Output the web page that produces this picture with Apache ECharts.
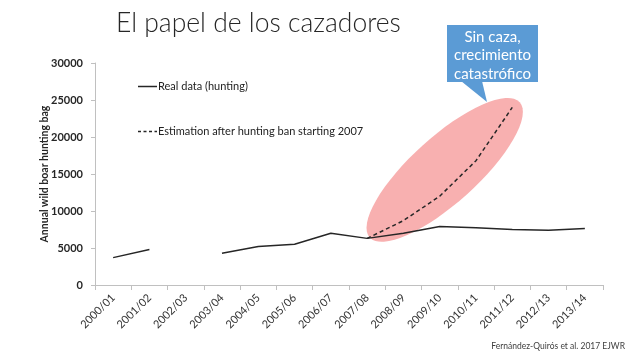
<!DOCTYPE html>
<html>
<head>
<meta charset="utf-8">
<script src="https://cdn.jsdelivr.net/npm/echarts@6/dist/echarts.min.js"></script>
<style>
html,body{margin:0;padding:0;background:#fff;}
#c{width:636px;height:356px;}
</style>
</head>
<body>
<div id="c"></div>
<script>
var categories = ['2000/01','2001/02','2002/03','2003/04','2004/05','2005/06','2006/07','2007/08','2008/09','2009/10','2010/11','2011/12','2012/13','2013/14'];
var realData = [3700, 4800, null, 4300, 5200, 5500, 7000, 6300, 7000, 7900, 7750, 7500, 7400, 7650];
var estimation = [null, null, null, null, null, null, null, 6300, 8700, 12000, 16800, 24000, null, null];
var yTicks = {min: 0, max: 30000, interval: 5000};
var seriesNames = ['Real data (hunting)', 'Estimation after hunting ban starting 2007'];
var titleText = 'El papel de los cazadores';
var yAxisName = 'Annual wild boar hunting bag';
var calloutLines = ['Sin caza,', 'crecimiento', 'catastrófico'];
var sourceText = 'Fernández-Quirós et al. 2017 EJWR';

var FONT = 'Lato, "Open Sans", sans-serif';
var chart = echarts.init(document.getElementById('c'), null, {renderer: 'canvas'});
var option = {
  animation: false,
  backgroundColor: '#ffffff',
  title: {
    text: titleText, left: 111, top: 5,
    textStyle: {fontFamily: FONT, fontWeight: 300, fontSize: 26.5, color: '#262626'}
  },
  grid: {left: 95, right: 33, top: 63, bottom: 71, containLabel: false},
  xAxis: {
    type: 'category', data: categories, boundaryGap: true,
    axisLine: {lineStyle: {color: '#c0c0c0', width: 1}},
    axisTick: {show: true, length: 5, interval: 0, lineStyle: {color: '#c0c0c0'}},
    axisLabel: {interval: 0, rotate: 45, margin: 11, fontFamily: FONT, fontSize: 11, color: '#333'},
    splitLine: {show: false}
  },
  yAxis: {
    type: 'value', min: yTicks.min, max: yTicks.max, interval: yTicks.interval,
    axisLine: {show: true, lineStyle: {color: '#c0c0c0'}},
    axisTick: {show: true, length: 4, lineStyle: {color: '#c0c0c0'}},
    axisLabel: {margin: 12, fontFamily: FONT, fontWeight: 'bold', fontSize: 11, color: '#262626',
      formatter: function (v) { return String(v); }},
    splitLine: {show: false}
  },
  series: [
    {
      name: seriesNames[0], type: 'line', data: realData, symbol: 'none', showSymbol: false,
      connectNulls: false, z: 5,
      lineStyle: {color: '#262626', width: 1.5},
      itemStyle: {color: '#262626'}
    },
    {
      name: seriesNames[1], type: 'line', data: estimation, symbol: 'none', showSymbol: false,
      z: 6,
      lineStyle: {color: '#262626', width: 1.5, type: [4, 3]},
      itemStyle: {color: '#262626'}
    }
  ]
};
chart.setOption(option);

// annotation ellipse anchored to the estimation series
var p1 = chart.convertToPixel({seriesIndex: 1}, [categories[7], estimation[7]]);
var p2 = chart.convertToPixel({seriesIndex: 1}, [categories[11], estimation[11]]);
var cx = (p1[0] + p2[0]) / 2 + 5, cy = (p1[1] + p2[1]) / 2 - 3;
var ang = Math.atan2(p1[1] - p2[1], p2[0] - p1[0]);
var semiMajor = 101, semiMinor = 33;
var yTop = chart.convertToPixel({yAxisIndex: 0}, yTicks.max);
var yBot = chart.convertToPixel({yAxisIndex: 0}, yTicks.min);

function legendItem(y, name, dashed) {
  return {
    type: 'group', z: 10,
    children: [
      {type: 'line', shape: {x1: 138, y1: y, x2: 157, y2: y},
        style: {stroke: '#262626', lineWidth: 1.5, lineDash: dashed ? [3, 2.5] : null}},
      {type: 'text', x: 158, y: y, style: {text: name, fill: '#222', font: '11px ' + FONT,
        verticalAlign: 'middle', align: 'left'}}
    ]
  };
}

chart.setOption({
  graphic: [
    {
      type: 'circle', z: 1, x: cx, y: cy, rotation: ang,
      scaleX: semiMajor / semiMinor, scaleY: 1,
      shape: {cx: 0, cy: 0, r: semiMinor},
      style: {fill: '#f8b0b0'}
    },
    {
      type: 'text', z: 10, x: 45, y: (yTop + yBot) / 2, rotation: Math.PI / 2,
      style: {text: yAxisName, fill: '#262626', font: 'bold 10.5px ' + FONT,
        align: 'center', verticalAlign: 'middle'}
    },
    legendItem(86.5, seriesNames[0], false),
    legendItem(131.5, seriesNames[1], true),
    {
      type: 'group', z: 10,
      children: [
        {type: 'rect', shape: {x: 447, y: 25, width: 91, height: 57}, style: {fill: '#5b9bd5'}},
        {type: 'polygon', shape: {points: [[461, 81], [482, 81], [487, 102]]}, style: {fill: '#5b9bd5'}},
        {type: 'text', x: 492.5, y: 28, style: {
          text: calloutLines.join('\n'), fill: '#ffffff', align: 'center', verticalAlign: 'top',
          font: '15px ' + FONT, lineHeight: 18.3
        }}
      ]
    },
    {
      type: 'text', right: 11, bottom: 5, z: 10,
      style: {text: sourceText, fill: '#404040', font: '8.5px ' + FONT}
    }
  ]
});
</script>
</body>
</html>
